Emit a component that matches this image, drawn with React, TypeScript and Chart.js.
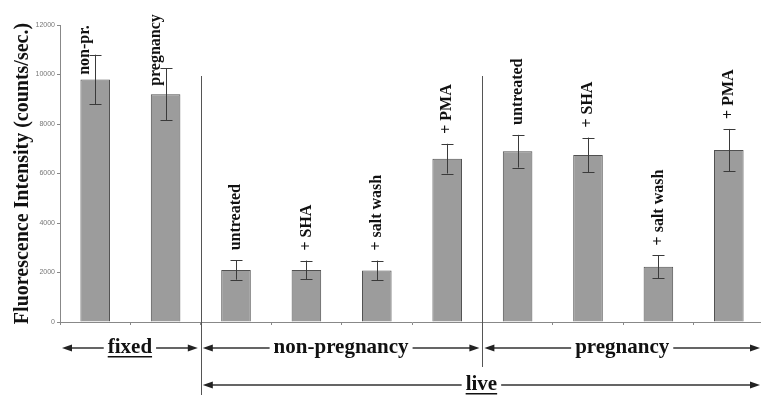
import React, { useEffect, useRef } from 'react';
import { Chart, registerables } from 'chart.js';

Chart.register(...registerables);

const categories = ['non-pr.', 'pregnancy', 'untreated', '+ SHA', '+ salt wash', '+ PMA', 'untreated', '+ SHA', '+ salt wash', '+ PMA'];
const values = [9800, 9200, 2100, 2100, 2080, 6600, 6900, 6750, 2230, 6950];
const errors = [1000, 1050, 390, 380, 400, 600, 660, 700, 460, 850];

const groupLabels = ['fixed', 'non-pregnancy', 'pregnancy'];
const groupStart = [0, 2, 6];
const groupEnd = [2, 6, 10];
const groupUnderlined = [true, false, false];

const spanLabel = 'live';
const spanStart = 2;
const spanEnd = 10;

const separators = [2, 6];

const yMin = 0;
const yMax = 12000;
const yStep = 2000;
const yTitle = 'Fluorescence Intensity (counts/sec.)';

const SERIF = '"Liberation Serif", "Times New Roman", serif';

const overlayPlugin = {
  id: 'overlay',
  afterDatasetsDraw(chart: any) {
    const ctx = chart.ctx as CanvasRenderingContext2D;
    const x = chart.scales.x;
    const y = chart.scales.y;
    ctx.save();
    // error bars
    ctx.strokeStyle = '#3a3a3a';
    ctx.lineWidth = 1;
    values.forEach((v, i) => {
      const cx = Math.round(x.getPixelForValue(i)) + 0.5;
      const yt = y.getPixelForValue(v + errors[i]);
      const yb = y.getPixelForValue(v - errors[i]);
      ctx.beginPath();
      ctx.moveTo(cx, yt);
      ctx.lineTo(cx, yb);
      ctx.moveTo(cx - 6, Math.round(yt) + 0.5);
      ctx.lineTo(cx + 6, Math.round(yt) + 0.5);
      ctx.moveTo(cx - 6, Math.round(yb) + 0.5);
      ctx.lineTo(cx + 6, Math.round(yb) + 0.5);
      ctx.stroke();
    });
    // bar labels
    ctx.fillStyle = '#111';
    ctx.font = `bold 16px ${SERIF}`;
    categories.forEach((label, i) => {
      const cx = x.getPixelForValue(i);
      const yt = y.getPixelForValue(values[i] + errors[i]);
      const tw = ctx.measureText(label).width;
      const bottom = yt - 10;
      ctx.save();
      if (bottom - tw < 10) {
        ctx.translate(cx - 10, 50);
        ctx.rotate(-Math.PI / 2);
        ctx.textAlign = 'center';
      } else {
        ctx.translate(cx, bottom);
        ctx.rotate(-Math.PI / 2);
        ctx.textAlign = 'left';
      }
      ctx.textBaseline = 'middle';
      ctx.fillText(label, 0, 0);
      ctx.restore();
    });
    ctx.restore();
  },
  afterDraw(chart: any) {
    const ctx = chart.ctx as CanvasRenderingContext2D;
    const area = chart.chartArea;
    const w = (area.right - area.left) / categories.length;
    const boundary = (i: number) => area.left + i * w;
    const H = chart.height;
    ctx.save();
    // separators
    ctx.strokeStyle = '#555';
    ctx.lineWidth = 1;
    separators.forEach((s, k) => {
      const sx = Math.round(boundary(s)) + 0.5;
      ctx.beginPath();
      ctx.moveTo(sx, 76);
      ctx.lineTo(sx, k === 0 ? H : 367);
      ctx.stroke();
    });

    const drawArrow = (x1: number, x2: number, yy: number, text: string, underline: boolean) => {
      ctx.font = `bold 21px ${SERIF}`;
      const tw = ctx.measureText(text).width;
      const cx = (x1 + x2) / 2;
      const head = 10;
      const hw = 3.5;
      ctx.strokeStyle = '#333';
      ctx.fillStyle = '#222';
      ctx.lineWidth = 1.5;
      ctx.beginPath();
      ctx.moveTo(x1 + head - 1, yy);
      ctx.lineTo(cx - tw / 2 - 4, yy);
      ctx.moveTo(cx + tw / 2 + 4, yy);
      ctx.lineTo(x2 - head + 1, yy);
      ctx.stroke();
      ctx.beginPath();
      ctx.moveTo(x1, yy);
      ctx.lineTo(x1 + head, yy - hw);
      ctx.lineTo(x1 + head, yy + hw);
      ctx.closePath();
      ctx.fill();
      ctx.beginPath();
      ctx.moveTo(x2, yy);
      ctx.lineTo(x2 - head, yy - hw);
      ctx.lineTo(x2 - head, yy + hw);
      ctx.closePath();
      ctx.fill();
      ctx.fillStyle = '#111';
      ctx.textAlign = 'center';
      ctx.textBaseline = 'alphabetic';
      ctx.fillText(text, cx, yy + 5);
      if (underline) {
        ctx.fillRect(cx - tw / 2, yy + 8, tw, 1.5);
      }
    };

    const rightTip = Math.min(area.right, 761) - 1;
    groupLabels.forEach((g, i) => {
      const x1 = groupStart[i] === 0 ? area.left + 2 : boundary(groupStart[i]) + 2;
      const x2 = groupEnd[i] === categories.length ? rightTip : boundary(groupEnd[i]) - 3;
      drawArrow(x1, x2, 348, g, groupUnderlined[i]);
    });
    drawArrow(boundary(spanStart) + 2, spanEnd === categories.length ? rightTip : boundary(spanEnd) - 3, 385, spanLabel, true);
    ctx.restore();
  },
};

export default function App() {
  const ref = useRef<HTMLCanvasElement | null>(null);
  useEffect(() => {
    if (!ref.current) return;
    const chart = new Chart(ref.current, {
      type: 'bar',
      data: {
        labels: categories,
        datasets: [
          {
            data: values,
            backgroundColor: '#9c9c9c',
            borderColor: '#505050',
            borderWidth: 1,
            barPercentage: 0.42,
            categoryPercentage: 1,
          },
        ],
      },
      options: {
        responsive: false,
        animation: false,
        devicePixelRatio: 1,
        layout: { padding: { top: 25, right: 2, left: 0, bottom: 0 } },
        plugins: { legend: { display: false }, tooltip: { enabled: false } },
        scales: {
          x: {
            type: 'category',
            ticks: { display: false },
            grid: { drawOnChartArea: false, offset: true, tickLength: 3, color: '#888' },
            border: { color: '#888', width: 1 },
            afterFit: (s: any) => { s.height = 73; },
          },
          y: {
            min: yMin,
            max: yMax,
            ticks: {
              stepSize: yStep,
              color: '#777',
              padding: 2,
              font: { family: '"Liberation Sans", Arial, sans-serif', size: 7 },
              callback: (v: any) => String(v),
            },
            grid: { drawOnChartArea: false, tickLength: 3, color: '#888' },
            border: { color: '#888', width: 1 },
            title: {
              display: true,
              text: yTitle,
              color: '#111',
              font: { family: SERIF, size: 20, weight: 'bold' },
              padding: { top: 11, bottom: 4 },
            },
            afterFit: (s: any) => { s.width = 60; },
          },
        },
      },
      plugins: [overlayPlugin],
    } as any);
    return () => chart.destroy();
  }, []);
  return (
    <div style={{ position: 'absolute', left: 0, top: 0, width: 761, height: 395, overflow: 'hidden', background: '#fff' }}>
      <canvas ref={ref} width={766} height={395} style={{ display: 'block', width: 766, height: 395 }} />
    </div>
  );
}
